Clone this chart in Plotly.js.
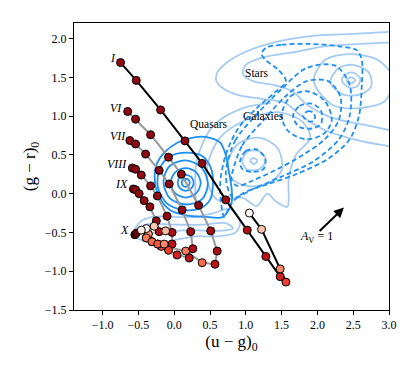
<!DOCTYPE html>
<html>
<head>
<meta charset="utf-8">
<script src="https://cdn.plot.ly/plotly-3.0.1.min.js"></script>
<style>
  html, body { margin: 0; padding: 0; background: #fff; }
  #chart { width: 415px; height: 374px; }
</style>
</head>
<body>
<div id="chart"></div>
<script>
// evolution tracks, colour value = how far along the track (1 = start, 0 = end)
const trackIx = [-0.75, -0.53, -0.19, 0.15, 0.39, 0.72, 1.02, 1.28, 1.48, 1.56, 1.48, 1.22, 1.05];
const trackIy = [1.69, 1.46, 1.08, 0.68, 0.39, -0.08, -0.47, -0.81, -1.07, -1.14, -0.97, -0.46, -0.25];
const trackIc = [0.92, 0.92, 0.92, 0.92, 0.92, 0.9, 0.86, 0.8, 0.72, 0.62, 0.4, 0.22, 0.0];

const trackVIx = [-0.65, -0.54, -0.33, -0.08, 0.10, 0.34, 0.51, 0.60, 0.57, 0.39, 0.16, -0.09, -0.31];
const trackVIy = [1.06, 0.96, 0.76, 0.47, 0.25, -0.15, -0.48, -0.74, -0.91, -0.89, -0.74, -0.69, -0.62];
const trackVIc = [0.92, 0.92, 0.92, 0.92, 0.92, 0.92, 0.88, 0.85, 0.8, 0.5, 0.45, 0.55, 0.4];

const trackVIIx = [-0.62, -0.54, -0.40, -0.21, -0.07, 0.11, 0.23, 0.26, 0.21, 0.04, -0.18, -0.39];
const trackVIIy = [0.685, 0.64, 0.51, 0.30, 0.125, -0.21, -0.49, -0.71, -0.83, -0.79, -0.68, -0.57];
const trackVIIc = [0.92, 0.92, 0.92, 0.92, 0.92, 0.92, 0.88, 0.85, 0.8, 0.72, 0.6, 0.45];

const trackVIIIx = [-0.585, -0.54, -0.46, -0.33, -0.235, -0.10, -0.03, -0.03, -0.08, -0.23, -0.36];
const trackVIIIy = [0.33, 0.315, 0.24, 0.10, -0.03, -0.29, -0.50, -0.65, -0.73, -0.65, -0.52];
const trackVIIIc = [0.92, 0.92, 0.92, 0.92, 0.92, 0.92, 0.87, 0.8, 0.62, 0.52, 0.35];

const trackIXx = [-0.57, -0.54, -0.49, -0.42, -0.34, -0.25, -0.21, -0.12, -0.28, -0.39];
const trackIXy = [0.06, 0.05, 0.0, -0.09, -0.17, -0.35, -0.49, -0.48, -0.42, -0.45];
const trackIXc = [0.92, 0.92, 0.92, 0.92, 0.92, 0.92, 0.85, 0.25, 0.2, 0.02];

const trackXx = [-0.55, -0.53, -0.46, -0.39, -0.31, -0.23, -0.14];
const trackXy = [-0.53, -0.51, -0.47, -0.57, -0.62, -0.65, -0.65];
const trackXc = [1.0, 1.0, 0.05, 0.45, 0.5, 0.55, 0.4];

const trackLabels = ['I', 'VI', 'VII', 'VIII', 'IX', 'X'];
const labelX = [-0.86, -0.81, -0.79, -0.80, -0.74, -0.70];
const labelY = [1.75, 1.10, 0.745, 0.38, 0.12, -0.47];

// density contours: [x, y] pairs
const quasarRingA = [[0.216,0.14],[0.2,0.177],[0.16,0.192],[0.12,0.177],[0.104,0.14],[0.12,0.103],[0.16,0.088],[0.2,0.103],[0.216,0.14]];
const quasarRingB = [[0.272,0.14],[0.239,0.213],[0.16,0.243],[0.081,0.213],[0.048,0.14],[0.081,0.067],[0.16,0.037],[0.239,0.067],[0.272,0.14]];
const quasarRingC = [[0.37,0.14],[0.308,0.274],[0.16,0.33],[0.012,0.274],[-0.05,0.14],[0.012,0.006],[0.16,-0.05],[0.308,0.006],[0.37,0.14]];
const quasarRingD = [[0.47,0.13],[0.38,0.34],[0.15,0.43],[-0.07,0.35],[-0.15,0.15],[-0.06,-0.06],[0.17,-0.14],[0.39,-0.07],[0.47,0.13]];
const quasarRingE = [[0.54,0.11],[0.52,0.31],[0.40,0.48],[0.17,0.53],[-0.06,0.48],[-0.20,0.33],[-0.23,0.09],[-0.11,-0.12],[0.12,-0.21],[0.36,-0.19],[0.50,-0.08],[0.54,0.11]];
const quasarRingF = [[-0.27,0.155],[-0.25,0.37],[-0.14,0.53],[0.05,0.66],[0.3,0.73],[0.5,0.72],[0.64,0.66],[0.72,0.5],[0.76,0.3],[0.8,0.08],[0.8,-0.12],[0.68,-0.3],[0.45,-0.3],[0.17,-0.28],[-0.06,-0.21],[-0.2,-0.06],[-0.27,0.155]];

const galaxyRingA = [[1.8,1.0],[1.86,1.06],[1.95,1.04],[1.96,0.95],[1.88,0.93],[1.8,1.0]];
const galaxyRingB = [[1.66,1.0],[1.75,1.13],[1.92,1.16],[2.05,1.07],[2.05,0.9],[1.92,0.84],[1.75,0.86],[1.66,1.0]];
const galaxyRingC = [[1.5,1.0],[1.62,1.25],[1.85,1.32],[2.1,1.2],[2.2,0.95],[2.1,0.78],[1.85,0.7],[1.6,0.8],[1.5,1.0]];
const galaxyRingD = [[0.92,0.42],[1.0,0.55],[1.15,0.57],[1.27,0.45],[1.25,0.32],[1.1,0.28],[0.95,0.32],[0.92,0.42]];
const galaxyRingE = [[0.82,0.3],[0.95,0.62],[1.25,0.95],[1.55,1.25],[1.85,1.45],[2.15,1.45],[2.32,1.25],[2.3,0.95],[2.1,0.7],[1.8,0.5],[1.45,0.32],[1.1,0.17],[0.88,0.1],[0.8,0.18],[0.82,0.3]];
const galaxyRingG = [[0.72,0.25],[0.85,0.68],[1.15,1.02],[1.5,1.35],[1.85,1.62],[2.25,1.65],[2.45,1.4],[2.45,1.0],[2.3,0.7],[1.95,0.42],[1.5,0.22],[1.1,0.06],[0.82,-0.05],[0.72,0.25]];
const galaxyRingF = [[1.28,1.88],[1.5,1.92],[1.9,1.93],[2.3,1.9],[2.55,1.85],[2.62,1.72],[2.62,1.4],[2.58,1.0],[2.45,0.7],[2.15,0.45],[1.7,0.25],[1.3,0.12],[0.95,0.0],[0.78,-0.15],[0.7,-0.3],[0.64,0.1],[0.72,0.5],[0.9,0.85],[1.15,1.1],[1.4,1.3],[1.56,1.45],[1.45,1.6],[1.28,1.72],[1.22,1.8],[1.28,1.88]];

const starRingA = [[2.41,1.46],[2.47,1.5],[2.53,1.46],[2.47,1.42],[2.41,1.46]];
const starRingB = [[2.34,1.46],[2.4,1.54],[2.5,1.56],[2.6,1.48],[2.55,1.38],[2.44,1.37],[2.34,1.46]];
const starRingC = [[2.18,1.44],[2.3,1.62],[2.5,1.66],[2.72,1.56],[2.75,1.38],[2.6,1.28],[2.35,1.28],[2.18,1.44]];
const starRingD = [[1.95,1.45],[2.1,1.72],[2.45,1.8],[2.85,1.72],[3.05,1.5],[2.95,1.2],[2.55,1.1],[2.2,1.15],[1.95,1.45]];
const starRingE = [[3.1,1.95],[2.6,1.93],[2.1,1.9],[1.65,1.82],[1.25,1.76],[1.0,1.66],[0.96,1.54],[1.1,1.45],[1.4,1.4],[1.65,1.32],[1.85,1.15],[2.2,0.98],[2.7,0.88],[3.1,0.8]];
const starRingF = [[3.1,2.09],[2.5,2.06],[1.9,2.03],[1.4,1.95],[1.0,1.83],[0.75,1.7],[0.6,1.56],[0.59,1.45],[0.68,1.36],[0.9,1.27],[1.25,1.22],[1.55,1.17],[1.75,1.02],[2.1,0.82],[2.6,0.68],[3.1,0.6]];
const starRingG = [[1.06,0.42],[1.1,0.46],[1.16,0.43],[1.12,0.38],[1.06,0.42]];
const starRingH = [[0.95,0.42],[1.02,0.54],[1.18,0.55],[1.28,0.44],[1.2,0.32],[1.02,0.31],[0.95,0.42]];
const starRingI = [[0.75,0.4],[0.9,0.65],[1.2,0.72],[1.45,0.58],[1.5,0.3],[1.3,0.13],[1.0,0.1],[0.8,0.2],[0.75,0.4]];
const starRingJ = [[0.45,0.25],[0.62,0.7],[1.0,0.95],[1.45,1.05],[1.8,0.92],[1.9,0.72],[1.7,0.5],[1.6,0.2],[1.58,-0.17],[1.42,-0.1],[1.3,0.0],[1.15,-0.16],[0.95,-0.05],[0.6,-0.08],[0.45,0.25]];
const starRingK = [[0.3,-0.1],[0.32,0.45],[0.55,0.88],[0.95,1.1],[1.35,1.17]];
const starRingL = [[-0.57,-0.52],[-0.47,-0.36],[-0.3,-0.3],[0.0,-0.3],[0.3,-0.3],[0.55,-0.25],[0.78,-0.2],[0.92,-0.35],[0.86,-0.5],[0.6,-0.55],[0.3,-0.55],[0.0,-0.6],[-0.3,-0.63],[-0.5,-0.58],[-0.57,-0.52]];
const starRingM = [[-0.52,-0.5],[-0.4,-0.4],[0.0,-0.4],[0.4,-0.4],[0.72,-0.38],[0.82,-0.45],[0.6,-0.48],[0.2,-0.47],[-0.2,-0.5],[-0.52,-0.5]];

const groupLabels = ['Quasars', 'Stars', 'Galaxies'];
const groupX = [0.49, 1.15, 1.24];
const groupY = [0.90, 1.555, 0.995];

const reddeningTail = [2.01, -0.50];
const reddeningHead = [2.37, -0.18];

const redsScale = [
  [0, '#fff5f0'], [0.125, '#fee0d2'], [0.25, '#fcbba1'], [0.375, '#fc9272'],
  [0.5, '#fb6a4a'], [0.625, '#ef3b2c'], [0.75, '#cb181d'], [0.875, '#a50f15'], [1, '#67000d']
];

const serif = 'Liberation Serif, Times New Roman, serif';
const traces = [];

function addRings(rings, color, dash) {
  rings.forEach(r => {
    traces.push({
      x: r.map(p => p[0]), y: r.map(p => p[1]),
      type: 'scatter', mode: 'lines',
      line: { color: color, width: 1.8, dash: dash, shape: 'spline', smoothing: 0.9 },
      hoverinfo: 'skip', showlegend: false
    });
  });
}

addRings([starRingA, starRingB, starRingC, starRingD, starRingE, starRingF, starRingG,
  starRingH, starRingI, starRingJ, starRingK, starRingL, starRingM], '#a6cbf3', 'solid');
addRings([galaxyRingA, galaxyRingB, galaxyRingC, galaxyRingD, galaxyRingE, galaxyRingG, galaxyRingF], '#1e8ff5', '5px,3px');
addRings([quasarRingA, quasarRingB, quasarRingC, quasarRingD, quasarRingE, quasarRingF], '#1e8ff5', 'solid');

const tracks = [
  [trackVIx, trackVIy, trackVIc, '#999999'],
  [trackVIIx, trackVIIy, trackVIIc, '#999999'],
  [trackVIIIx, trackVIIIy, trackVIIIc, '#999999'],
  [trackIXx, trackIXy, trackIXc, '#999999'],
  [trackXx, trackXy, trackXc, '#999999'],
  [trackIx, trackIy, trackIc, '#000000']
];

// lines first, then markers on top
tracks.forEach(t => {
  traces.push({
    x: t[0], y: t[1], type: 'scatter', mode: 'lines',
    line: { color: t[3], width: 2 }, hoverinfo: 'skip', showlegend: false
  });
});
tracks.forEach(t => {
  traces.push({
    x: t[0], y: t[1], type: 'scatter', mode: 'markers',
    marker: {
      size: 8, color: t[2], colorscale: redsScale, cmin: 0, cmax: 1,
      line: { color: '#000', width: 1 }
    },
    showlegend: false
  });
});

const annotations = [];
trackLabels.forEach((t, i) => {
  annotations.push({
    x: labelX[i], y: labelY[i], text: '<i>' + t + '</i>', showarrow: false,
    font: { family: serif, size: 12, color: '#000' }
  });
});
groupLabels.forEach((t, i) => {
  annotations.push({
    x: groupX[i], y: groupY[i], text: t, showarrow: false,
    font: { family: serif, size: 11.5, color: '#000' }
  });
});
annotations.push({
  x: reddeningHead[0], y: reddeningHead[1], ax: reddeningTail[0], ay: reddeningTail[1],
  xref: 'x', yref: 'y', axref: 'x', ayref: 'y', text: '', showarrow: true,
  arrowhead: 2, arrowsize: 1, arrowwidth: 2, arrowcolor: '#000'
});
annotations.push({
  x: 1.99, y: -0.56, text: '<i>A</i><sub>V</sub> = 1', showarrow: false,
  font: { family: serif, size: 12, color: '#000' }
});

const axisBase = {
  showline: true, linecolor: '#000', linewidth: 1, mirror: true,
  ticks: 'outside', ticklen: 4, tickwidth: 1, tickcolor: '#000',
  showgrid: false, zeroline: false,
  tickfont: { family: serif, size: 12, color: '#000' }
};

const layout = {
  width: 415, height: 374,
  margin: { l: 74, r: 26, t: 23, b: 64 },
  paper_bgcolor: '#fff', plot_bgcolor: '#fff',
  showlegend: false,
  xaxis: Object.assign({}, axisBase, {
    range: [-1.4, 3.0], tickvals: [-1, -0.5, 0, 0.5, 1, 1.5, 2, 2.5, 3],
    ticktext: ['−1.0', '−0.5', '0.0', '0.5', '1.0', '1.5', '2.0', '2.5', '3.0'],
    title: { text: '(u − g)<sub>0</sub>', font: { family: serif, size: 17, color: '#000' }, standoff: 3 }
  }),
  yaxis: Object.assign({}, axisBase, {
    range: [-1.5, 2.2], tickvals: [-1.5, -1, -0.5, 0, 0.5, 1, 1.5, 2],
    ticktext: ['−1.5', '−1.0', '−0.5', '0.0', '0.5', '1.0', '1.5', '2.0'],
    title: { text: '(g − r)<sub>0</sub>', font: { family: serif, size: 17, color: '#000' }, standoff: 4 }
  }),
  annotations: annotations
};

Plotly.newPlot('chart', traces, layout, { displayModeBar: false, staticPlot: true });
</script>
</body>
</html>
